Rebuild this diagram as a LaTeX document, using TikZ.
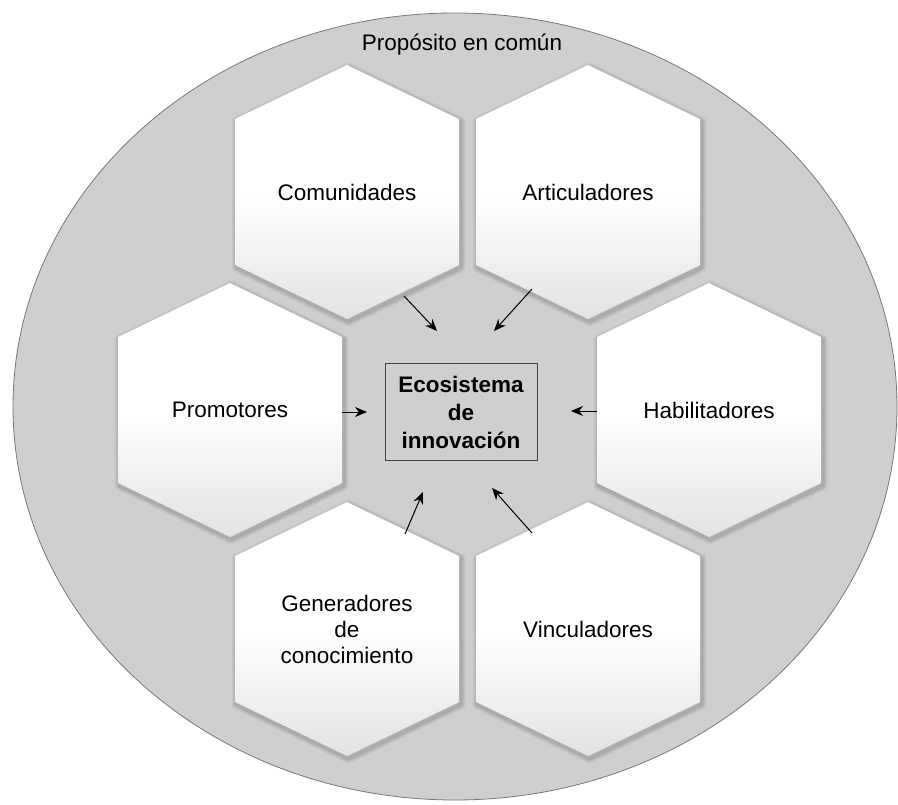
\documentclass[tikz,border=0pt]{standalone}
\usepackage{fontspec}
\setmainfont{Liberation Sans}
\usetikzlibrary{arrows.meta}

\definecolor{bgfill}{RGB}{208,206,207}
\definecolor{bgline}{RGB}{120,120,120}
\definecolor{boxline}{RGB}{64,64,64}

\tikzset{
  label text/.style={font=\fontsize{22.5}{26}\selectfont, align=center, text=black},
  core box/.style={draw=boxline, line width=1pt, minimum width=152pt, minimum height=96pt,
    font=\bfseries\fontsize{22.5}{28}\selectfont, align=center, text=black},
  feed/.style={-{Stealth[length=12pt,width=10pt]}, line width=1pt, black},
  hex halo/.style={draw=black, line join=round},
  hex face/.style={top color=white, bottom color=white!89!black, middle color=white},
}

% pointy-top hexagon around (#1,#2)
\newcommand\hexpath[2]{(#1,#2-127) -- (#1+112,#2-73) -- (#1+112,#2+73) -- (#1,#2+127) -- (#1-112,#2+73) -- (#1-112,#2-73) -- cycle}

% one shaded hexagon with its soft shadow and centred label
\newcommand\hexcell[4]{%
  \foreach \w/\o in {10/0.04,7/0.06,4/0.08}{%
    \draw[hex halo, line width=\w pt, opacity=\o, shift={(1.5,2.5)}] \hexpath{#2}{#3};
  }
  \shade[hex face] \hexpath{#2}{#3};
  \node[label text] (#1) at (#2,#3) {#4};
}

\begin{document}
\begin{tikzpicture}[x=1pt, y=-1pt]
  \useasboundingbox (0,0) rectangle (898,805);

  % common purpose
  \draw[fill=bgfill, draw=bgline, line width=0.8pt] (455,406.5) ellipse [x radius=442, y radius=393.5];
  \node[label text] (purpose) at (462,45) {Propósito en común};

  % actors
  \hexcell{comunidades}{347}{192}{Comunidades}
  \hexcell{articuladores}{588}{192}{Articuladores}
  \hexcell{promotores}{230}{410}{Promotores}
  \hexcell{habilitadores}{709}{410}{Habilitadores}
  \hexcell{generadores}{347}{629}{Generadores\\de\\conocimiento}
  \hexcell{vinculadores}{588}{629}{Vinculadores}

  % ecosystem core
  \node[core box] (eco) at (461,412) {Ecosistema\\de\\innovación};

  % arrow ends
  \coordinate (c1s) at (404,296);  \coordinate (c1e) at (437,331);
  \coordinate (a1s) at (532,289);  \coordinate (a1e) at (494,331);
  \coordinate (p1s) at (342,412);  \coordinate (p1e) at (367,412);
  \coordinate (h1s) at (597,411);  \coordinate (h1e) at (571,411);
  \coordinate (g1s) at (405,534);  \coordinate (g1e) at (423,492);
  \coordinate (v1s) at (532,533);  \coordinate (v1e) at (492,488);

  \draw[feed] (c1s) -- (c1e);
  \draw[feed] (a1s) -- (a1e);
  \draw[feed] (p1s) -- (p1e);
  \draw[feed] (h1s) -- (h1e);
  \draw[feed] (g1s) -- (g1e);
  \draw[feed] (v1s) -- (v1e);
\end{tikzpicture}
\end{document}
